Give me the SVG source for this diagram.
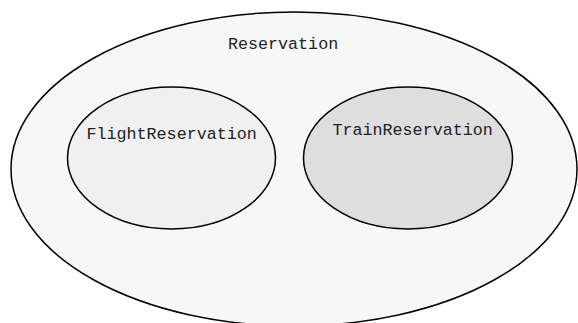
<svg xmlns="http://www.w3.org/2000/svg" width="578" height="323" viewBox="0 0 578 323">
  <style>
    .shape { stroke: #000; stroke-width: 1.5; }
    .label { font-family: "Liberation Mono", "Courier New", monospace; font-size: 16.7px; fill: #222; }
  </style>
  <rect width="578" height="323" fill="#fff"/>
  <g id="Reservation">
    <ellipse class="shape" cx="294" cy="169" rx="283" ry="157" fill="#f7f7f7"/>
    <text class="label" x="228" y="49">Reservation</text>
  </g>
  <g id="FlightReservation">
    <ellipse class="shape" cx="171.5" cy="158" rx="104" ry="71" fill="#f0f0f0"/>
    <text class="label" x="86.5" y="139">FlightReservation</text>
  </g>
  <g id="TrainReservation">
    <ellipse class="shape" cx="408" cy="158" rx="104.5" ry="71" fill="#dedede"/>
    <text class="label" x="332.5" y="135">TrainReservation</text>
  </g>
  <g id="connectors"/>
</svg>
